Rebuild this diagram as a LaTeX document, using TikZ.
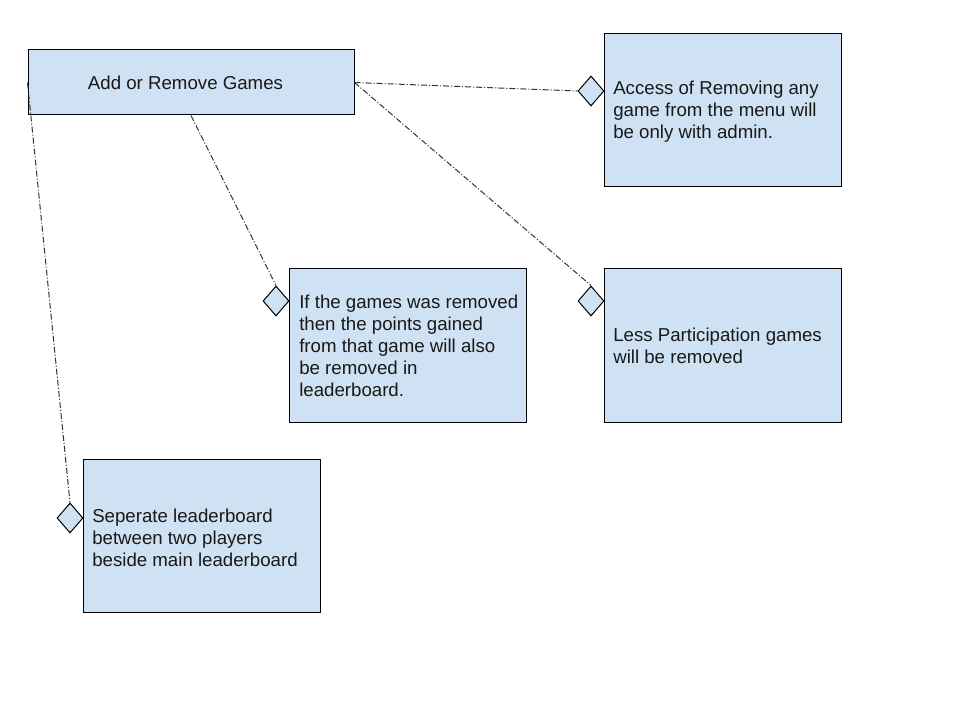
\documentclass[tikz,border=0pt]{standalone}
\usepackage{fontspec}
\setmainfont{Liberation Sans}
\usetikzlibrary{shapes.geometric}
\definecolor{boxfill}{HTML}{CFE2F3}
\tikzset{
  box/.style={draw=black, fill=boxfill, line width=0.75pt, rectangle, inner sep=0pt},
  mainbox/.style={box, minimum width=244.5pt, minimum height=48.75pt},
  notebox/.style={box, minimum width=177.75pt, minimum height=114.75pt},
  gem/.style={draw=black, fill=boxfill, line width=0.75pt, diamond, inner sep=0pt, minimum width=19.5pt, minimum height=22.5pt},
  txt/.style={font=\fontsize{14}{16.5}\selectfont, align=left, inner sep=0pt, anchor=west, text=black!90},
  link/.style={draw=black!80, line width=0.75pt, dash pattern=on 4.5pt off 1.5pt on 0.8pt off 1.5pt}
}
\begin{document}
\begin{tikzpicture}[x=0.75pt, y=-0.75pt]
\useasboundingbox (0,0) rectangle (960,720);
\node[mainbox] (main) at (191,82.5) {};
\node[txt, anchor=center] (maintxt) at (185.5,83) {Add or Remove Games};
\node[notebox] (A) at (722.5,110.5) {};
\node[notebox] (B) at (408,345.5) {};
\node[notebox] (C) at (722.5,345.5) {};
\node[notebox] (D) at (201.5,536) {};
\node[txt] (Atxt) at (613,111.5) {Access of Removing any\\game from the menu will\\be only with admin.};
\node[txt] (Btxt) at (299,346) {If the games was removed\\then the points gained\\from that game will also\\be removed in\\leaderboard.};
\node[txt] (Ctxt) at (613,346) {Less Participation games\\will be removed};
\node[txt] (Dtxt) at (92,538) {Seperate leaderboard\\between two players\\beside main leaderboard};
\node[gem] (dA) at (591,91) {};
\node[gem] (dB) at (276,301) {};
\node[gem] (dC) at (591,301) {};
\node[gem] (dD) at (70,518) {};
\draw[link] (main.east) -- (dA.west);
\draw[link] (main.east) -- (dC.north);
\draw[link] (main.south) -- (dB.north);
\draw[link] (main.west) -- (dD.north);
\end{tikzpicture}
\end{document}
